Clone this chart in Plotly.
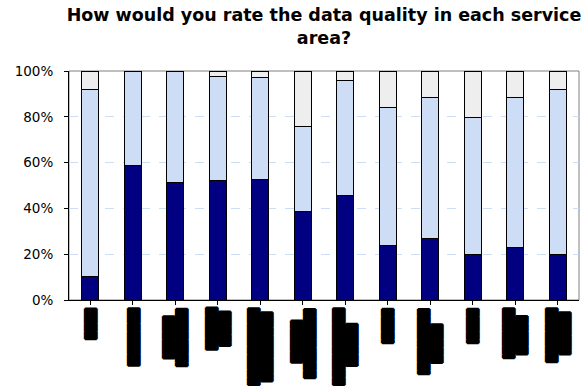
import plotly.graph_objects as go

# Rotated service-area labels (one <br> per extra line)
area_labels = [
    "████",
    "▐███████",
    "▐█████<br>▐███████",
    "▐█████<br>▐████",
    "██████████<br>█████████",
    "▐█████<br>█████████",
    "██████████<br>▐█████",
    "▐████",
    "▐████████<br>█████",
    "▐████",
    "▐██████<br>█████",
    "███████<br>▐█████",
]
# Share of responses per service area, in percent (stacked to 100%)
good = [10.2, 58.7, 51.2, 52.0, 52.6, 38.8, 45.8, 23.8, 26.7, 19.8, 22.8, 19.8]
fair = [81.8, 41.3, 48.8, 45.7, 44.5, 36.8, 50.0, 60.1, 61.7, 60.1, 65.6, 72.1]
poor = [8.0, 0.0, 0.0, 2.3, 2.9, 24.4, 4.2, 16.1, 11.6, 20.1, 11.6, 8.1]

x = list(range(len(good)))
series = [
    ("Good", good, "#000080"),
    ("Fair", fair, "#CCDDF5"),
    ("Poor", poor, "#EEEEEE"),
]

fig = go.Figure()
for name, vals, color in series:
    fig.add_trace(go.Bar(
        x=x, y=[v / 100 for v in vals], name=name,
        marker=dict(color=color, line=dict(color="#000000", width=1)),
        width=0.4,
    ))

# Rotated category labels under each bar
for xi, lab in zip(x, area_labels):
    fig.add_annotation(
        x=xi, y=0, xref="x", yref="paper",
        text=lab, textangle=-90, align="center",
        xanchor="center", yanchor="top", yshift=-6,
        showarrow=False,
        font=dict(family="DejaVu Sans", size=10, color="#000000",
                  shadow="1px 0 0 #000, -1px 0 0 #000, 0 1px 0 #000, 0 -1px 0 #000"),
    )

# Plot frame: grey on top/right
fig.add_shape(type="rect", xref="paper", yref="paper", x0=0, x1=1, y0=0, y1=1,
              line=dict(color="#808080", width=1), layer="below")

fig.update_layout(
    width=584, height=386,
    margin=dict(l=69, r=5, t=71, b=86),
    paper_bgcolor="#FFFFFF", plot_bgcolor="#FFFFFF",
    barmode="stack", showlegend=False,
    title=dict(
        text="<b>How would you rate the data quality in each service<br>area?</b>",
        xref="container", x=(69 + 579) / 2 / 584, xanchor="center",
        yref="container", y=1 - 21 / 386, yanchor="top",
        font=dict(family="DejaVu Sans", size=17.5, color="#000000"),
    ),
    font=dict(family="DejaVu Sans", size=13, color="#000000"),
    xaxis=dict(
        range=[-0.5, len(x) - 0.5], tickmode="array", tickvals=x,
        showticklabels=False, tickson="boundaries",
        ticks="outside", ticklen=4, tickcolor="#000000",
        showline=True, linecolor="#000000", linewidth=1,
        showgrid=False, zeroline=False, fixedrange=True,
    ),
    yaxis=dict(
        range=[0, 1], tickmode="linear", tick0=0, dtick=0.2, tickformat=".0%",
        ticks="outside", ticklen=4, tickcolor="#000000", ticklabelstandoff=8,
        showline=True, linecolor="#000000", linewidth=1,
        showgrid=True, gridcolor="#CCDDF5", griddash="dash", gridwidth=1,
        zeroline=False, fixedrange=True,
        tickfont=dict(family="DejaVu Sans", size=13.5, color="#000000"),
    ),
)

fig.write_html("out.html")
